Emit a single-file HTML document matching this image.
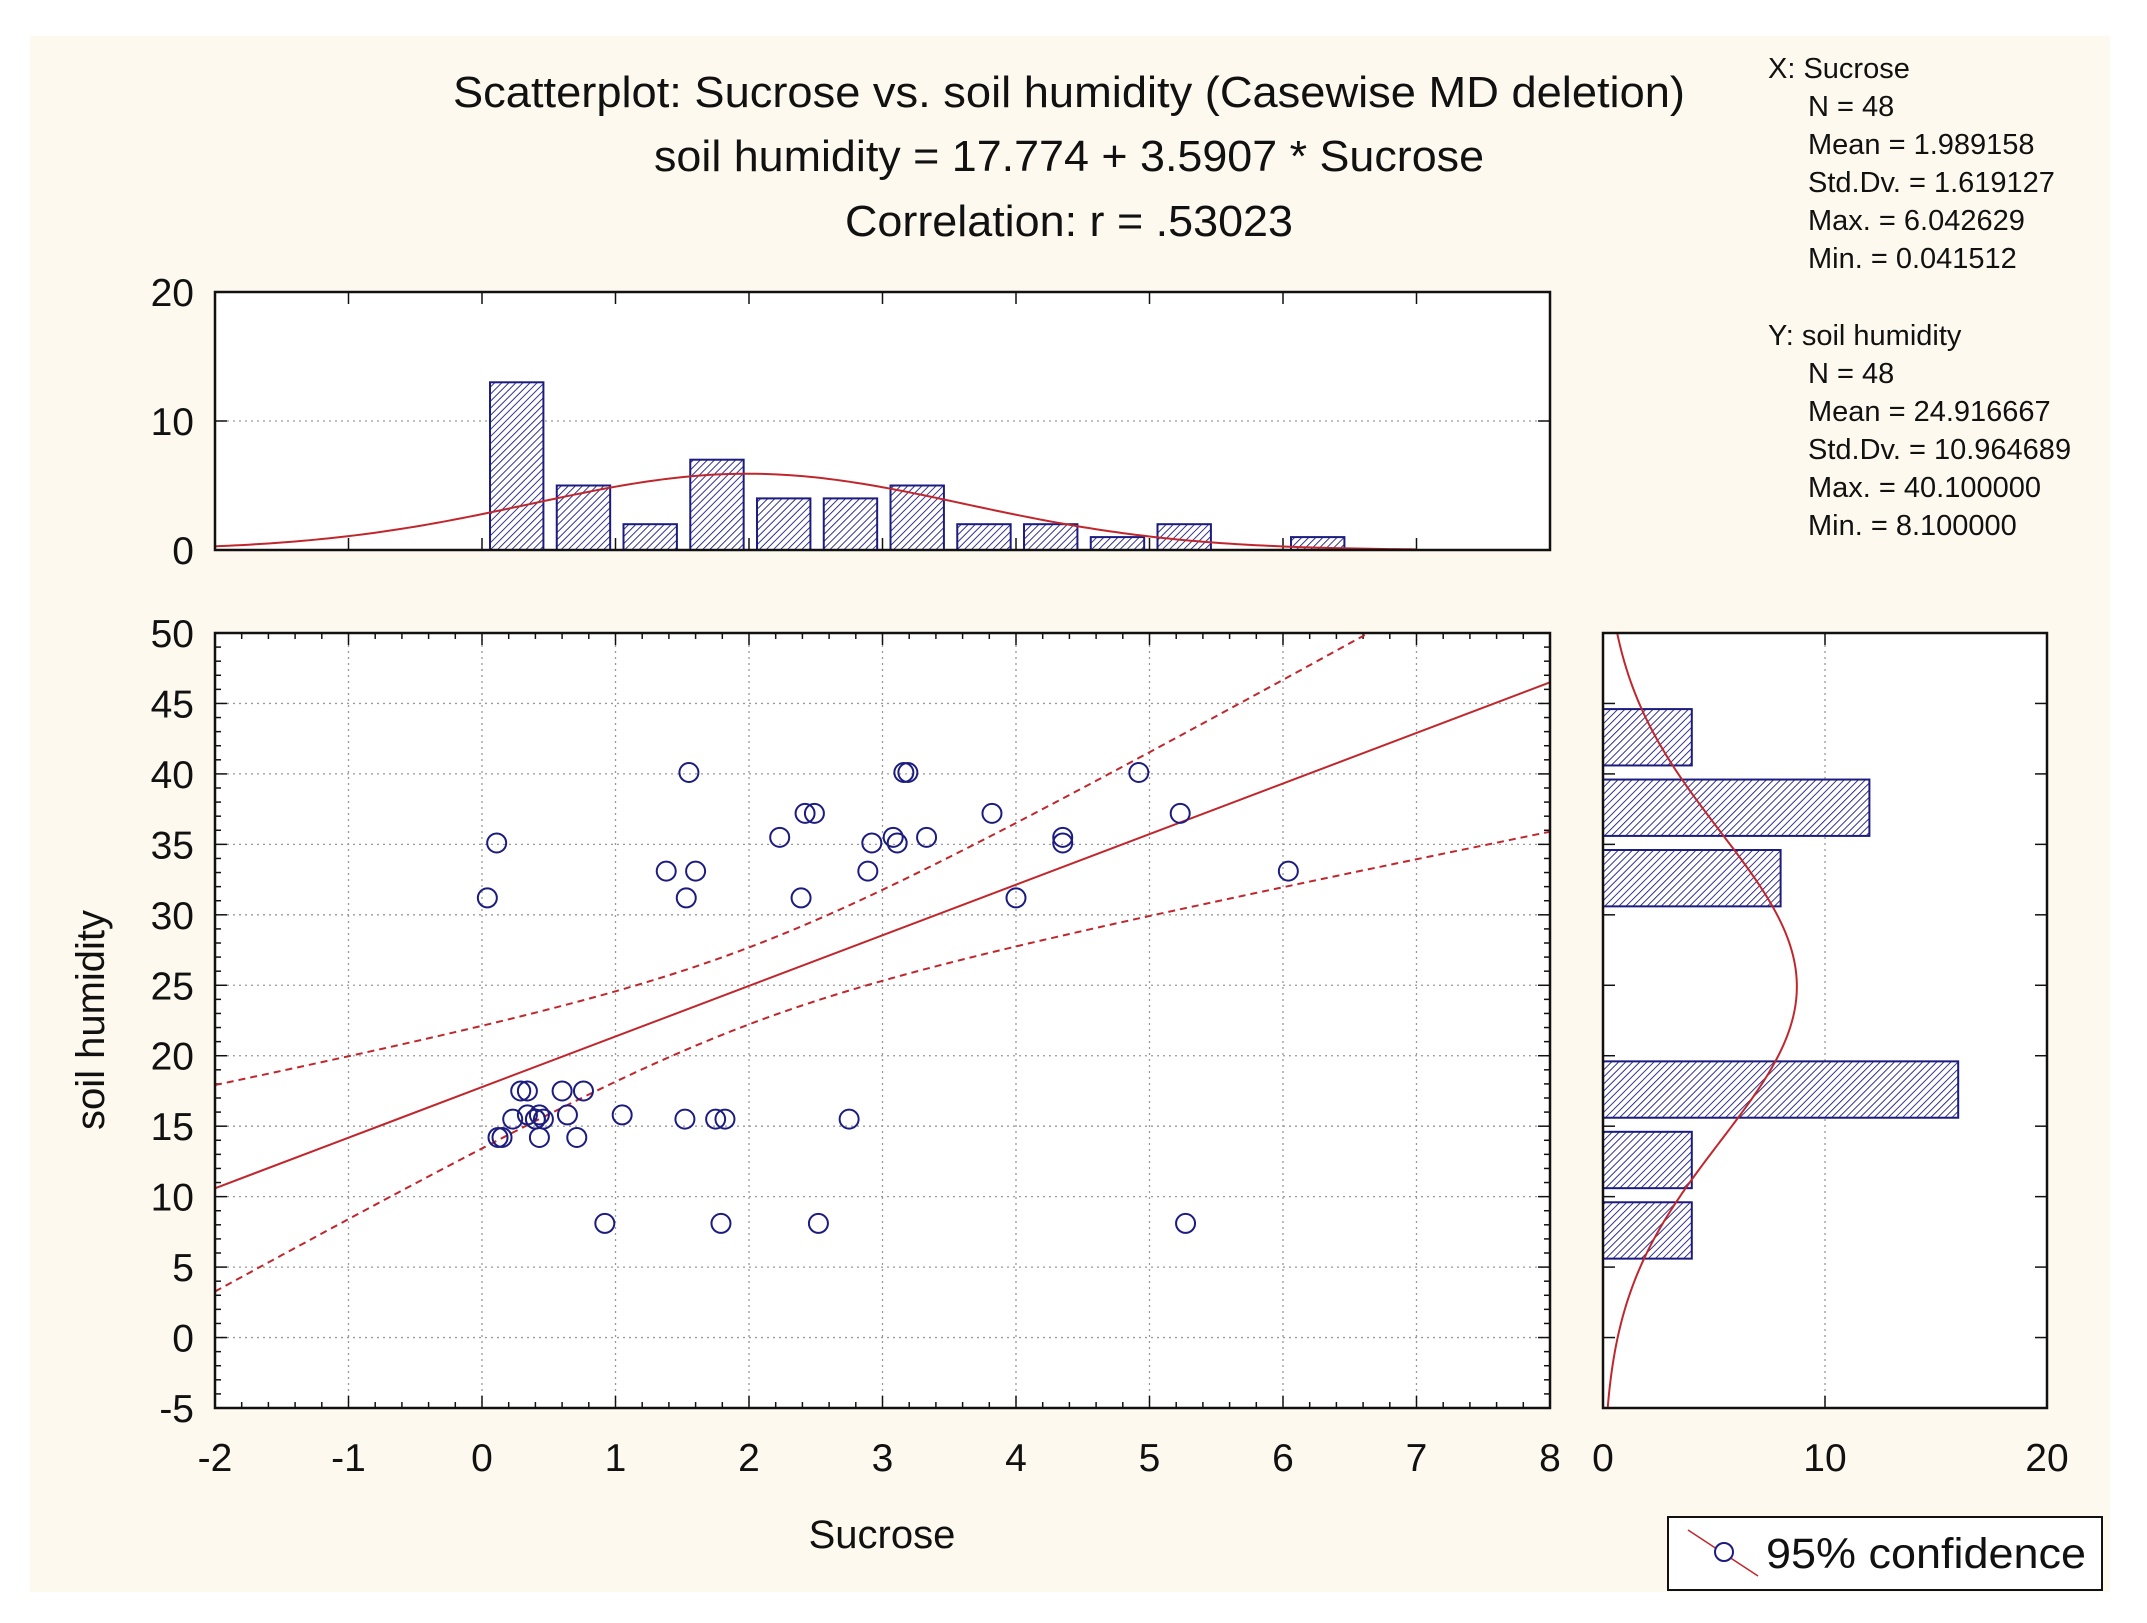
<!DOCTYPE html>
<html><head><meta charset="utf-8"><style>
html,body{margin:0;padding:0;background:#fff;}
svg{display:block;font-family:"Liberation Sans",Arial,sans-serif;}
</style></head><body>
<svg id="chart" width="2147" height="1623" viewBox="0 0 2147 1623" xmlns="http://www.w3.org/2000/svg">
<defs>
<pattern id="hatch" patternUnits="userSpaceOnUse" width="5" height="5" patternTransform="rotate(45)">
<rect width="5" height="5" fill="#fff"/><line x1="0" y1="0" x2="0" y2="5" stroke="#1c1c80" stroke-width="1.8"/>
</pattern>
</defs>
<rect x="30" y="36" width="2080" height="1556" fill="#fdf9ee"/>
<g font-size="44" text-anchor="middle" fill="#111">
<text x="1069" y="107" textLength="1232" lengthAdjust="spacingAndGlyphs">Scatterplot: Sucrose  vs. soil humidity (Casewise MD deletion)</text>
<text x="1069" y="171" textLength="830" lengthAdjust="spacingAndGlyphs">soil humidity = 17.774 + 3.5907 * Sucrose</text>
<text x="1069" y="236" textLength="448" lengthAdjust="spacingAndGlyphs">Correlation: r = .53023</text>
</g>
<g font-size="29" fill="#111">
<text x="1768" y="78">X:  Sucrose</text>
<text x="1808" y="116">N = 48</text>
<text x="1808" y="154">Mean = 1.989158</text>
<text x="1808" y="192">Std.Dv. = 1.619127</text>
<text x="1808" y="230">Max. = 6.042629</text>
<text x="1808" y="268">Min. = 0.041512</text>
<text x="1768" y="345">Y:  soil humidity</text>
<text x="1808" y="383">N = 48</text>
<text x="1808" y="421">Mean = 24.916667</text>
<text x="1808" y="459">Std.Dv. = 10.964689</text>
<text x="1808" y="497">Max. = 40.100000</text>
<text x="1808" y="535">Min. = 8.100000</text>
</g>
<g id="g"></g>
<text x="882" y="1548" font-size="40" text-anchor="middle" fill="#111">Sucrose</text>
<text transform="translate(104,1020) rotate(-90)" font-size="40" text-anchor="middle" fill="#111">soil humidity</text>
<g>
<rect x="1668" y="1517" width="434" height="73" fill="#fff" stroke="#111" stroke-width="2"/>
<line x1="1688" y1="1530" x2="1758" y2="1576" stroke="#c0272d" stroke-width="1.5"/>
<circle cx="1724" cy="1552" r="9" fill="#fff" stroke="#1c1c80" stroke-width="2"/>
<text x="1766" y="1568" font-size="43" fill="#111" textLength="320" lengthAdjust="spacingAndGlyphs">95% confidence</text>
</g>
</svg>
<script>
const xs=[0.04,0.11,0.12,0.15,0.23,0.29,0.34,0.34,0.4,0.4,0.43,0.43,0.46,0.6,0.64,0.71,0.76,0.92,1.05,1.38,1.52,1.53,1.55,1.6,1.75,1.82,1.79,2.23,2.39,2.42,2.49,2.52,2.75,2.89,2.92,3.08,3.11,3.16,3.19,3.33,3.82,4.0,4.35,4.35,4.92,5.23,5.27,6.04];
const ys=[31.2,35.1,14.2,14.2,15.5,17.5,17.5,15.8,15.5,15.5,15.8,14.2,15.5,17.5,15.8,14.2,17.5,8.1,15.8,33.1,15.5,31.2,40.1,33.1,15.5,15.5,8.1,35.5,31.2,37.2,37.2,8.1,15.5,33.1,35.1,35.5,35.1,40.1,40.1,35.5,37.2,31.2,35.5,35.1,40.1,37.2,8.1,33.1];
const xBinStarts=[0,0.5,1,1.5,2,2.5,3,3.5,4,4.5,5,5.5,6];
const xBinCounts=[13,5,2,7,4,4,5,2,2,1,2,0,1];
const yBinStarts=[5,10,15,20,25,30,35,40];
const yBinCounts=[4,4,16,0,0,8,12,4];
const xTicks=[-2,-1,0,1,2,3,4,5,6,7,8];
const yTicks=[-5,0,5,10,15,20,25,30,35,40,45,50];
const topHistTicks=[0,10,20];
const rightHistTicks=[0,10,20];
const intercept=17.774, slope=3.5907, meanX=1.989158, sdX=1.619127, meanY=24.916667, sdY=10.964689, nObs=48, rVal=0.53023;

const NS="http://www.w3.org/2000/svg", G=document.getElementById('g');
function mk(t,a,p){const e=document.createElementNS(NS,t);for(const k in a)e.setAttribute(k,a[k]);(p||G).appendChild(e);return e;}
const S={l:215,r:1550,t:633,b:1408}, T={t:292,b:550}, R={l:1603,r:2047};
const sx=v=>S.l+(v+2)/10*(S.r-S.l), sy=v=>S.b-(v+5)/55*(S.b-S.t);
const ty=v=>T.b-v/20*(T.b-T.t), rx=v=>R.l+v/20*(R.r-R.l);
const red="#c0272d", navy="#1c1c80";
function pdf(x,m,s){return Math.exp(-0.5*((x-m)/s)**2)/(s*Math.sqrt(2*Math.PI));}

let e;
e=mk('rect',{x:S.l,y:T.t,width:S.r-S.l,height:T.b-T.t,fill:'#fff'});

e=mk('rect',{x:S.l,y:S.t,width:S.r-S.l,height:S.b-S.t,fill:'#fff'});

e=mk('rect',{x:R.l,y:S.t,width:R.r-R.l,height:S.b-S.t,fill:'#fff'});


xTicks.forEach(v=>{if(v>-2&&v<8){e=mk('line',{x1:sx(v),x2:sx(v),y1:S.t,y2:S.b,stroke:'#999','stroke-dasharray':'2,4','stroke-width':1.3});
}});
yTicks.forEach(v=>{if(v>-5&&v<50){e=mk('line',{x1:S.l,x2:S.r,y1:sy(v),y2:sy(v),stroke:'#999','stroke-dasharray':'2,4','stroke-width':1.3});
}});
e=mk('line',{x1:S.l,x2:S.r,y1:ty(10),y2:ty(10),stroke:'#999','stroke-dasharray':'2,4','stroke-width':1.3});

e=mk('line',{x1:rx(10),x2:rx(10),y1:S.t,y2:S.b,stroke:'#999','stroke-dasharray':'2,4','stroke-width':1.3});


for(let i=0;i<=50;i++){const v=-2+i*0.2;const L=i%5==0?12:6;
 mk('line',{x1:sx(v),x2:sx(v),y1:S.b,y2:S.b-L,stroke:'#111','stroke-width':1.5});
 mk('line',{x1:sx(v),x2:sx(v),y1:S.t,y2:S.t+L,stroke:'#111','stroke-width':1.5});}
for(let i=0;i<=55;i++){const v=-5+i;const L=i%5==0?12:6;
 mk('line',{x1:S.l,x2:S.l+L,y1:sy(v),y2:sy(v),stroke:'#111','stroke-width':1.5});
 mk('line',{x1:S.r,x2:S.r-L,y1:sy(v),y2:sy(v),stroke:'#111','stroke-width':1.5});
 if(i%5==0){mk('line',{x1:R.l,x2:R.l+12,y1:sy(v),y2:sy(v),stroke:'#111','stroke-width':1.5});
 mk('line',{x1:R.r,x2:R.r-12,y1:sy(v),y2:sy(v),stroke:'#111','stroke-width':1.5});}}
xTicks.forEach(v=>{mk('line',{x1:sx(v),x2:sx(v),y1:T.b,y2:T.b-12,stroke:'#111','stroke-width':1.5});
 mk('line',{x1:sx(v),x2:sx(v),y1:T.t,y2:T.t+12,stroke:'#111','stroke-width':1.5});});
topHistTicks.forEach(v=>{mk('line',{x1:S.l,x2:S.l+12,y1:ty(v),y2:ty(v),stroke:'#111','stroke-width':1.5});
 mk('line',{x1:S.r,x2:S.r-12,y1:ty(v),y2:ty(v),stroke:'#111','stroke-width':1.5});});
rightHistTicks.forEach(v=>{mk('line',{x1:rx(v),x2:rx(v),y1:S.b,y2:S.b-12,stroke:'#111','stroke-width':1.5});
 mk('line',{x1:rx(v),x2:rx(v),y1:S.t,y2:S.t+12,stroke:'#111','stroke-width':1.5});});

xTicks.forEach(v=>{e=mk('text',{x:sx(v),y:1471,'font-size':39,'text-anchor':'middle',fill:'#111'});e.textContent=v;
});
yTicks.forEach(v=>{e=mk('text',{x:194,y:sy(v)+14,'font-size':39,'text-anchor':'end',fill:'#111'});e.textContent=v;
});
topHistTicks.forEach(v=>{e=mk('text',{x:194,y:ty(v)+14,'font-size':39,'text-anchor':'end',fill:'#111'});e.textContent=v;
});
rightHistTicks.forEach(v=>{e=mk('text',{x:rx(v),y:1471,'font-size':39,'text-anchor':'middle',fill:'#111'});e.textContent=v;
});

xBinStarts.forEach((b,i)=>{if(!xBinCounts[i])return;const x1=sx(b+0.06),x2=sx(b+0.46);
 e=mk('rect',{x:x1,y:ty(xBinCounts[i]),width:x2-x1,height:T.b-ty(xBinCounts[i]),fill:'url(#hatch)',stroke:navy,'stroke-width':2});
 });
let d='';for(let v=-2;v<=7.001;v+=0.05){d+=(d?'L':'M')+sx(v)+','+ty(nObs*0.5*pdf(v,meanX,sdX));}
e=mk('path',{d,fill:'none',stroke:red,'stroke-width':2});


yBinStarts.forEach((b,i)=>{if(!yBinCounts[i])return;const y1=sy(b+4.6),y2=sy(b+0.6);
 e=mk('rect',{x:R.l,y:y1,width:rx(yBinCounts[i])-R.l,height:y2-y1,fill:'url(#hatch)',stroke:navy,'stroke-width':2});
 });
d='';for(let v=-5;v<=50.001;v+=0.25){d+=(d?'L':'M')+rx(nObs*5*pdf(v,meanY,sdY))+','+sy(v);}
e=mk('path',{d,fill:'none',stroke:red,'stroke-width':2});


const clip=mk('clipPath',{id:'sc'});mk('rect',{x:S.l,y:S.t,width:S.r-S.l,height:S.b-S.t},clip);
const sres=sdY*Math.sqrt(1-rVal*rVal)*Math.sqrt((nObs-1)/(nObs-2)), Sxx=(nObs-1)*sdX*sdX, tq=2.013;
e=mk('line',{x1:sx(-2),y1:sy(intercept+slope*-2),x2:sx(8),y2:sy(intercept+slope*8),stroke:red,'stroke-width':2,'clip-path':'url(#sc)'});

[1,-1].forEach(sg=>{let p='';for(let v=-2;v<=8.001;v+=0.05){const se=sres*Math.sqrt(1/nObs+(v-meanX)**2/Sxx);
 p+=(p?'L':'M')+sx(v)+','+sy(intercept+slope*v+sg*tq*se);}
 e=mk('path',{d:p,fill:'none',stroke:red,'stroke-width':2,'stroke-dasharray':'7,5','clip-path':'url(#sc)'});
 });

xs.forEach((v,i)=>{e=mk('circle',{cx:sx(v),cy:sy(ys[i]),r:9.5,fill:'none',stroke:navy,'stroke-width':2});
 });

[[S.l,T.t,S.r-S.l,T.b-T.t],[S.l,S.t,S.r-S.l,S.b-S.t],[R.l,S.t,R.r-R.l,S.b-S.t]].forEach(a=>{
 mk('rect',{x:a[0],y:a[1],width:a[2],height:a[3],fill:'none',stroke:'#111','stroke-width':2.5});});
</script>
</body></html>
